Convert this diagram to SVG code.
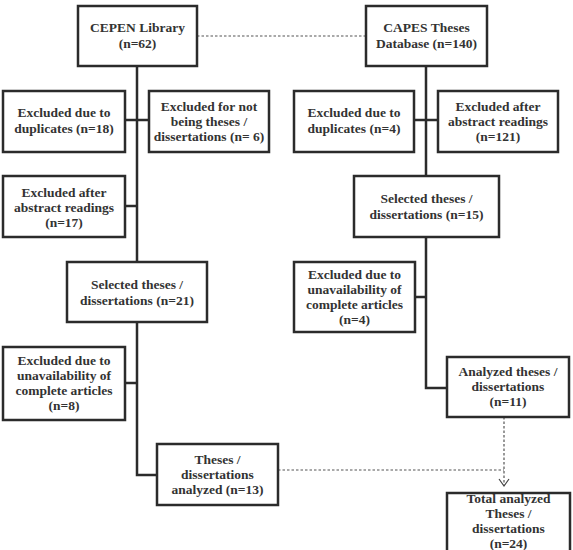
<svg xmlns="http://www.w3.org/2000/svg" width="573" height="550" viewBox="0 0 573 550">
<style>
.box{fill:#fff;stroke:#2b2b2b;stroke-width:2.5}
.t{font-family:"Liberation Serif","Times New Roman",serif;font-weight:bold;font-size:13.5px;fill:#333;text-anchor:middle}
.ln{fill:none;stroke:#2b2b2b;stroke-width:2.5}
.dot{fill:none;stroke:#555;stroke-width:1.2;stroke-dasharray:2.5 2}
</style>
<rect width="573" height="550" fill="#fff"/>
<g id="connectors">
<path class="ln" d="M137,66 V475 H157"/>
<path class="ln" d="M125,120 H149"/>
<path class="ln" d="M125,206 H137"/>
<path class="ln" d="M125,383 H137"/>
<path class="ln" d="M426,66 V388 H447"/>
<path class="ln" d="M414,120 H438"/>
<path class="ln" d="M414,297 H426"/>
<path class="dot" d="M197,36 H366"/>
<path class="dot" d="M278,470 H504"/>
<path class="dot" d="M504,417 V485"/>
<path fill="none" stroke="#444" stroke-width="1.2" d="M499,479 L504,486 L509,479"/>
</g>
<g id="cepen"><rect class="box" x="78" y="6" width="119" height="60"/>
<text class="t" x="137.5" y="32">CEPEN Library</text><text class="t" x="137.5" y="48">(n=62)</text></g>
<g id="capes"><rect class="box" x="366" y="6" width="121" height="60"/>
<text class="t" x="426.5" y="32">CAPES Theses</text><text class="t" x="426.5" y="48">Database (n=140)</text></g>
<g id="l-dup"><rect class="box" x="3" y="91" width="122" height="61"/>
<text class="t" x="64" y="117">Excluded due to</text><text class="t" x="64" y="133">duplicates (n=18)</text></g>
<g id="l-notthesis"><rect class="box" x="149" y="91" width="120" height="61"/>
<text class="t" x="209" y="111">Excluded for not</text><text class="t" x="209" y="126">being theses /</text><text class="t" x="209" y="141">dissertations (n= 6)</text></g>
<g id="l-abs"><rect class="box" x="3" y="176" width="122" height="61"/>
<text class="t" x="64" y="197">Excluded after</text><text class="t" x="64" y="212">abstract readings</text><text class="t" x="64" y="227">(n=17)</text></g>
<g id="l-sel"><rect class="box" x="67" y="262" width="140" height="60"/>
<text class="t" x="137" y="289">Selected theses /</text><text class="t" x="137" y="305">dissertations (n=21)</text></g>
<g id="l-unav"><rect class="box" x="3" y="347" width="122" height="73"/>
<text class="t" x="64" y="365">Excluded due to</text><text class="t" x="64" y="380">unavailability of</text><text class="t" x="64" y="395">complete articles</text><text class="t" x="64" y="410">(n=8)</text></g>
<g id="l-anal"><rect class="box" x="157" y="444" width="121" height="61"/>
<text class="t" x="217.5" y="464">Theses /</text><text class="t" x="217.5" y="479">dissertations</text><text class="t" x="217.5" y="494">analyzed (n=13)</text></g>
<g id="r-dup"><rect class="box" x="294" y="91" width="120" height="61"/>
<text class="t" x="354" y="117">Excluded due to</text><text class="t" x="354" y="133">duplicates  (n=4)</text></g>
<g id="r-abs"><rect class="box" x="438" y="91" width="120" height="61"/>
<text class="t" x="498" y="111">Excluded after</text><text class="t" x="498" y="126">abstract readings</text><text class="t" x="498" y="141">(n=121)</text></g>
<g id="r-sel"><rect class="box" x="354" y="176" width="145" height="61"/>
<text class="t" x="426.5" y="203">Selected theses /</text><text class="t" x="426.5" y="219">dissertations (n=15)</text></g>
<g id="r-unav"><rect class="box" x="294" y="262" width="121" height="70"/>
<text class="t" x="354.5" y="279">Excluded due to</text><text class="t" x="354.5" y="294">unavailability of</text><text class="t" x="354.5" y="309">complete articles</text><text class="t" x="354.5" y="324">(n=4)</text></g>
<g id="r-anal"><rect class="box" x="447" y="357" width="122" height="60"/>
<text class="t" x="508" y="376">Analyzed theses /</text><text class="t" x="508" y="391">dissertations</text><text class="t" x="508" y="406">(n=11)</text></g>
<g id="total"><rect class="box" x="447" y="493" width="123" height="70"/>
<text class="t" x="508.5" y="503">Total analyzed</text><text class="t" x="508.5" y="518">Theses /</text><text class="t" x="508.5" y="533">dissertations</text><text class="t" x="508.5" y="548">(n=24)</text></g>
</svg>
